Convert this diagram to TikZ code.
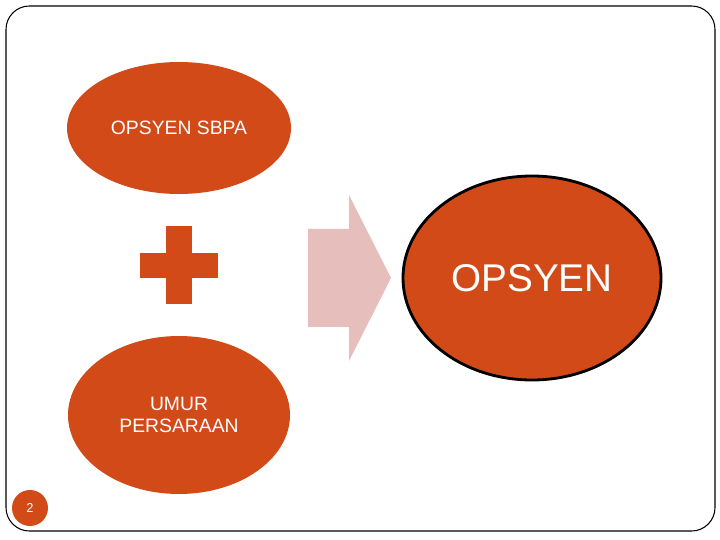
\documentclass[tikz,border=0pt]{standalone}
\usepackage{fontspec}
\setmainfont{Liberation Sans}
\usetikzlibrary{shapes.geometric}
\definecolor{rust}{RGB}{209,74,24}
\definecolor{pinkarrow}{RGB}{230,190,187}
\tikzset{
  blob/.style={ellipse, fill=rust, draw=none, inner sep=0pt, text=white, align=center},
}
\begin{document}
\begin{tikzpicture}[x=0.03cm, y=-0.03cm]
\useasboundingbox (0,0) rectangle (720,540);
\fill[white] (0,0) rectangle (720,540);
\draw[line width=0.9pt, rounded corners=20] (6,6) rectangle (715,531);
% ellipses
\node[blob, minimum width=224*0.03cm, minimum height=132*0.03cm, font=\fontsize{16.5}{19}\selectfont] (sbpa) at (179,128) {OPSYEN SBPA};
\node[blob, minimum width=222*0.03cm, minimum height=158*0.03cm, font=\fontsize{16.5}{19}\selectfont] (umur) at (179,415) {UMUR\\PERSARAAN};
\node[blob, draw=black, line width=2.4pt, minimum width=258*0.03cm, minimum height=204*0.03cm, font=\fontsize{33}{38}\selectfont] (ops) at (532,278) {OPSYEN};
% plus
\fill[rust] (166,226) rectangle (192,304);
\fill[rust] (140,253) rectangle (218,278);
% arrow
\fill[pinkarrow] (308,229) -- (349,229) -- (349,195) -- (391,278) -- (349,361) -- (349,327) -- (308,327) -- cycle;
% page number
\node[circle, fill=rust, minimum size=36*0.03cm, inner sep=0pt, text=white, font=\fontsize{11}{13}\selectfont] (pg) at (30,508) {2};
\end{tikzpicture}
\end{document}
